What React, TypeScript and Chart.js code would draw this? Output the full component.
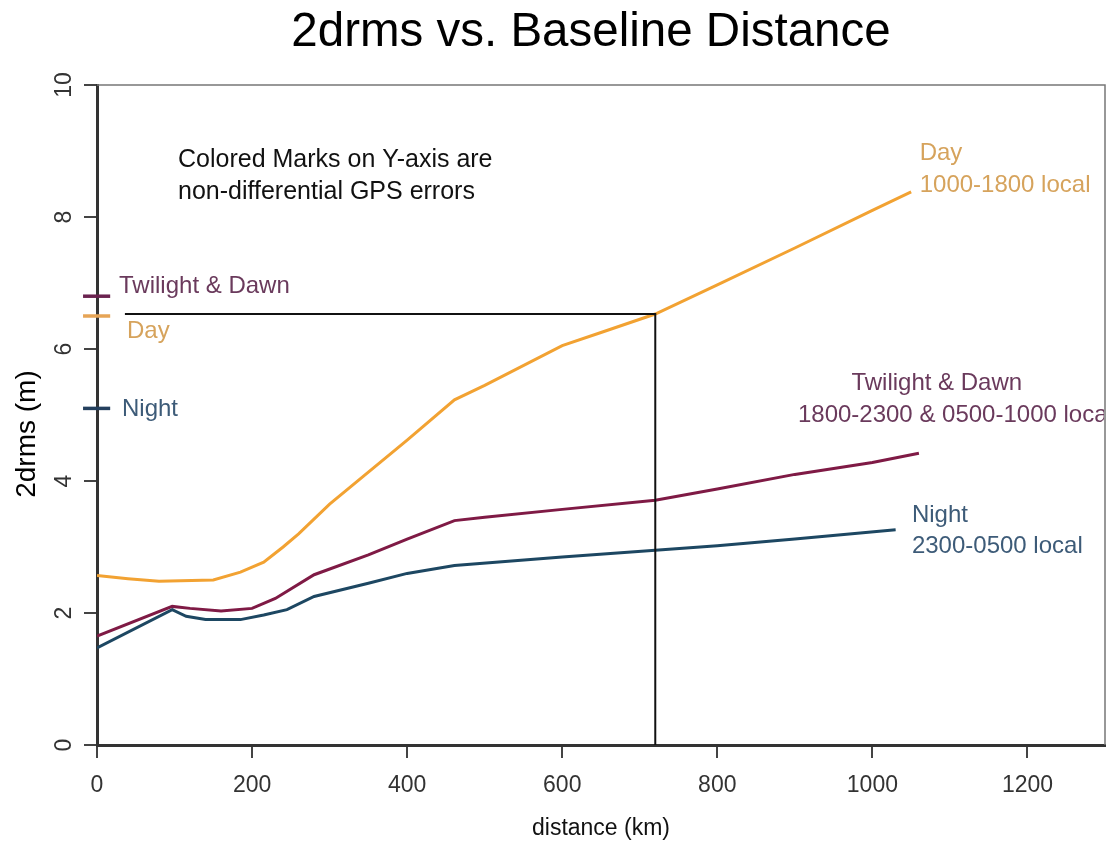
import React, { useEffect, useRef } from "react";
import { Chart, registerables } from "chart.js";

Chart.register(...registerables);

// ---- data (distance in km, 2drms in m) ----
const dayKm = [0, 40, 80, 150, 185, 215, 240, 260, 300, 400, 461, 500, 600, 650, 720, 800, 900, 1000, 1050];
const dayErr = [2.57, 2.52, 2.48, 2.5, 2.62, 2.77, 3.0, 3.2, 3.65, 4.62, 5.23, 5.45, 6.05, 6.25, 6.53, 6.97, 7.53, 8.1, 8.38];

const twilightKm = [0, 97, 120, 160, 200, 230, 280, 350, 400, 461, 500, 600, 720, 800, 900, 1000, 1060];
const twilightErr = [1.65, 2.1, 2.07, 2.03, 2.07, 2.22, 2.58, 2.88, 3.12, 3.4, 3.45, 3.57, 3.71, 3.88, 4.1, 4.28, 4.42];

const nightKm = [0, 97, 115, 140, 185, 215, 245, 280, 350, 400, 461, 600, 720, 800, 900, 1030];
const nightErr = [1.47, 2.05, 1.95, 1.9, 1.9, 1.97, 2.05, 2.25, 2.45, 2.6, 2.72, 2.85, 2.95, 3.02, 3.12, 3.26];

// non-differential GPS errors (marks on the Y axis)
const axisMarkKm = [-18, 17];
const dayNonDiff = 6.5;
const twilightNonDiff = 6.8;
const nightNonDiff = 5.1;

// reference lines (720 km crossing)
const refKm = [36, 720, 720];
const refErr = [6.53, 6.53, 0];

const xTickValues = [0, 200, 400, 600, 800, 1000, 1200];
const yTickValues = [0, 2, 4, 6, 8, 10];

const TITLE = "2drms vs. Baseline Distance";
const X_TITLE = "distance (km)";
const Y_TITLE = "2drms (m)";

const FONT = "'Liberation Sans', Arial, Helvetica, sans-serif";

const DAY_LINE = "#f2a232";
const DAY_TEXT = "#d6a35c";
const TW_LINE = "#7f1a45";
const TW_TEXT = "#6a3a5c";
const NIGHT_LINE = "#1d4762";
const NIGHT_TEXT = "#3d5b78";

type Note = { text: string; x: number; y: number; color: string; size: number; align: CanvasTextAlign };

const notes: Note[] = [
  { text: "Colored Marks on Y-axis are", x: 104.5, y: 8.76, color: "#111", size: 25, align: "left" },
  { text: "non-differential GPS errors", x: 104.5, y: 8.27, color: "#111", size: 25, align: "left" },
  { text: "Twilight & Dawn", x: 28.4, y: 6.85, color: TW_TEXT, size: 24, align: "left" },
  { text: "Day", x: 38.7, y: 6.17, color: DAY_TEXT, size: 24, align: "left" },
  { text: "Night", x: 32.2, y: 4.98, color: NIGHT_TEXT, size: 24, align: "left" },
  { text: "Day", x: 1061, y: 8.86, color: DAY_TEXT, size: 24, align: "left" },
  { text: "1000-1800 local", x: 1061, y: 8.38, color: DAY_TEXT, size: 24, align: "left" },
  { text: "Twilight & Dawn", x: 1083, y: 5.38, color: TW_TEXT, size: 24, align: "center" },
  { text: "1800-2300 & 0500-1000 local", x: 904, y: 4.89, color: TW_TEXT, size: 24, align: "left" },
  { text: "Night", x: 1051, y: 3.38, color: NIGHT_TEXT, size: 24, align: "left" },
  { text: "2300-0500 local", x: 1051, y: 2.91, color: NIGHT_TEXT, size: 24, align: "left" },
];

const toPts = (xs: number[], ys: number[]) => xs.map((x, i) => ({ x, y: ys[i] }));

const framePlugin = {
  id: "frameAndNotes",
  beforeDatasetsDraw(chart: any) {
    const { ctx, chartArea } = chart;
    ctx.save();
    ctx.strokeStyle = "#777";
    ctx.lineWidth = 1.5;
    ctx.beginPath();
    ctx.moveTo(chartArea.left, chartArea.top);
    ctx.lineTo(chartArea.right, chartArea.top);
    ctx.lineTo(chartArea.right, chartArea.bottom);
    ctx.stroke();
    ctx.restore();
  },
  afterDatasetsDraw(chart: any) {
    const { ctx, chartArea, scales } = chart;
    const xs = scales.x;
    const ys = scales.y;
    ctx.save();
    ctx.beginPath();
    ctx.rect(0, 0, chartArea.right - 1, chart.height);
    ctx.clip();
    ctx.textBaseline = "alphabetic";
    for (const n of notes) {
      ctx.font = `${n.size}px ${FONT}`;
      ctx.fillStyle = n.color;
      ctx.textAlign = n.align;
      ctx.fillText(n.text, xs.getPixelForValue(n.x), ys.getPixelForValue(n.y));
    }
    ctx.restore();

    // chart title and axis titles
    ctx.save();
    ctx.textAlign = "center";
    ctx.textBaseline = "alphabetic";
    ctx.fillStyle = "#000";
    ctx.font = `47.5px ${FONT}`;
    ctx.fillText(TITLE, 591, 46);
    ctx.fillStyle = "#111";
    ctx.font = `23px ${FONT}`;
    ctx.fillText(X_TITLE, (chartArea.left + chartArea.right) / 2, 835);
    ctx.translate(35, 434);
    ctx.rotate(-Math.PI / 2);
    ctx.font = `28px ${FONT}`;
    ctx.fillStyle = "#000";
    ctx.fillText(Y_TITLE, 0, 0);
    ctx.restore();
  },
};

export default function App() {
  const canvasRef = useRef<HTMLCanvasElement | null>(null);

  useEffect(() => {
    document.body.style.margin = "0";
    const canvas = canvasRef.current;
    if (!canvas) return;

    const lineDs = (label: string, pts: any[], color: string, width: number) => ({
      label,
      data: pts,
      showLine: true,
      borderColor: color,
      backgroundColor: color,
      borderWidth: width,
      pointRadius: 0,
      tension: 0,
      fill: false,
    });

    const chart = new Chart(canvas, {
      type: "scatter",
      data: {
        datasets: [
          { ...lineDs("ref", toPts(refKm, refErr), "#111", 2), borderJoinStyle: "miter" },
          lineDs("Night", toPts(nightKm, nightErr), NIGHT_LINE, 3),
          lineDs("Twilight & Dawn", toPts(twilightKm, twilightErr), TW_LINE, 3),
          lineDs("Day", toPts(dayKm, dayErr), DAY_LINE, 3),
          { ...lineDs("Day mark", toPts(axisMarkKm, axisMarkKm.map(() => dayNonDiff)), "#e6a456", 3.5), clip: false },
          { ...lineDs("Twilight mark", toPts(axisMarkKm, axisMarkKm.map(() => twilightNonDiff)), "#6b2350", 3.5), clip: false },
          { ...lineDs("Night mark", toPts(axisMarkKm, axisMarkKm.map(() => nightNonDiff)), "#24405e", 3.5), clip: false },
        ] as any,
      },
      options: {
        animation: false,
        responsive: true,
        maintainAspectRatio: false,
        layout: { padding: { left: 0, right: 2, top: 85, bottom: 0 } },
        plugins: {
          legend: { display: false },
          tooltip: { enabled: false },
          title: { display: false },
        },
        scales: {
          x: {
            type: "linear",
            min: 0,
            max: 1300,
            afterFit: (s: any) => {
              s.height = 97;
            },
            afterBuildTicks: (s: any) => {
              s.ticks = xTickValues.map((v) => ({ value: v }));
            },
            ticks: {
              color: "#333",
              font: { family: FONT, size: 23 },
              padding: 14,
              maxRotation: 0,
              callback: (v: any) => String(v),
            },
            grid: { drawOnChartArea: false, drawTicks: true, tickLength: 13, color: "#444", lineWidth: 2 },
            border: { display: true, color: "#333", width: 3 },
          },
          y: {
            type: "linear",
            min: 0,
            max: 10,
            afterFit: (s: any) => {
              s.width = 97;
            },
            afterBuildTicks: (s: any) => {
              s.ticks = yTickValues.map((v) => ({ value: v }));
            },
            ticks: {
              color: "#333",
              font: { family: FONT, size: 23 },
              padding: 7,
              minRotation: 90,
              maxRotation: 90,
              crossAlign: "center",
              callback: (v: any) => String(v),
            },
            grid: { drawOnChartArea: false, drawTicks: true, tickLength: 13, color: "#444", lineWidth: 2 },
            border: { display: true, color: "#333", width: 3 },
          },
        },
      },
      plugins: [framePlugin],
    } as any);

    return () => chart.destroy();
  }, []);

  return (
    <div style={{ position: "fixed", left: 0, top: 0, width: 1107, height: 842, background: "#fff" }}>
      <canvas ref={canvasRef} />
    </div>
  );
}
